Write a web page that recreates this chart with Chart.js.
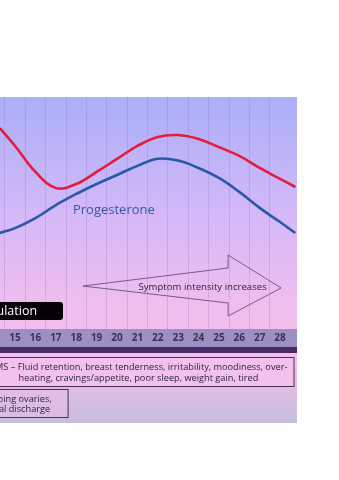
<!DOCTYPE html>
<html>
<head>
<meta charset="utf-8">
<script src="https://cdn.jsdelivr.net/npm/chart.js@4/dist/chart.umd.min.js"></script>
<style>
  html, body { margin: 0; padding: 0; background: #fff; overflow: hidden; }
  canvas { display: block; }
</style>
</head>
<body>
<canvas id="cycle-chart" width="339" height="480"></canvas>
<script>
// Cycle days printed on the band under the curves.
let dayLabels = ['15', '16', '17', '18', '19', '20', '21', '22', '23', '24', '25', '26', '27', '28'];

// Days where the hormone curves are sampled (both ends run past the band).
let sampleDays = [14.25, 15, 16, 17, 18, 19, 20, 21, 22, 23, 24, 25, 26, 27, 28, 28.75];

// Relative hormone levels (0 - 100).
let estrogenLevels = [86.6, 78.9, 67.7, 60.8, 62.5, 67.7, 73.3, 78.9, 82.8, 83.6, 81.9, 78.4, 74.6, 69.4, 64.7, 61.2];
let progesteroneLevels = [41.4, 43.5, 47.8, 53.4, 58.2, 62.5, 66.4, 70.3, 73.4, 72.6, 69.4, 65.1, 59.1, 52.2, 46.1, 41.4];

// Gridlines sit between the days.
let gridDays = [14.5, 15.5, 16.5, 17.5, 18.5, 19.5, 20.5, 21.5, 22.5, 23.5, 24.5, 25.5, 26.5, 27.5];

const X_MIN = 14.26;
const X_MAX = 28.83;
const PANEL_BOTTOM = 423;
const TEXT_FONT = '"Open Sans", "Liberation Sans", sans-serif';

function toPoints(days, values) {
    return days.map((d, i) => ({x: d, y: values[i]}));
}

// Backdrop: gradient panel, day band and dark divider.
const backdrop = {
    id: 'backdrop',
    beforeDraw(chart) {
        const ctx = chart.ctx;
        const area = chart.chartArea;
        const left = area.left - 5;
        const right = area.right;

        ctx.save();
        const grad = ctx.createLinearGradient(0, area.top, 0, PANEL_BOTTOM);
        grad.addColorStop(0, '#a9aff8');
        grad.addColorStop(0.38, '#d7b9f8');
        grad.addColorStop(0.65, '#f1bdee');
        grad.addColorStop(0.82, '#efbfec');
        grad.addColorStop(1, '#c7bddc');
        ctx.fillStyle = grad;
        ctx.fillRect(left, area.top, right - left, PANEL_BOTTOM - area.top);

        // day band
        ctx.fillStyle = '#9d8fc4';
        ctx.fillRect(left, area.bottom, right - left, 18);
        // dark divider
        ctx.fillStyle = '#4b2b63';
        ctx.fillRect(left, area.bottom + 18, right - left, 6);
        ctx.restore();
    }
};

// Boxes, arrow and the curve label.
const notes = {
    id: 'notes',
    afterDraw(chart) {
        const ctx = chart.ctx;
        const x = chart.scales.x;
        const area = chart.chartArea;
        ctx.save();

        // "Ovulation" tag
        const tagRight = x.getPixelForValue(17.35);
        ctx.fillStyle = '#050005';
        ctx.beginPath();
        ctx.roundRect(-20, 302, tagRight + 20, 18, 3);
        ctx.fill();
        ctx.fillStyle = '#ffffff';
        ctx.font = '12.5px ' + TEXT_FONT;
        ctx.textAlign = 'right';
        ctx.textBaseline = 'middle';
        ctx.fillText('Ovulation', x.getPixelForValue(16.08), 311.5);

        // Symptom arrow
        const tail = x.getPixelForValue(18.33);
        const neck = x.getPixelForValue(25.45);
        const tip = x.getPixelForValue(28.05);
        ctx.beginPath();
        ctx.moveTo(tail, 286);
        ctx.lineTo(neck, 268);
        ctx.lineTo(neck, 255);
        ctx.lineTo(tip, 288);
        ctx.lineTo(neck, 316);
        ctx.lineTo(neck, 303);
        ctx.closePath();
        ctx.strokeStyle = '#7a5a8a';
        ctx.lineWidth = 1;
        ctx.stroke();
        ctx.fillStyle = '#2e2438';
        ctx.font = '9.6px ' + TEXT_FONT;
        ctx.textAlign = 'center';
        ctx.fillText('Symptom intensity increases', x.getPixelForValue(24.2), 287.5);

        // Progesterone label
        ctx.fillStyle = '#3458a8';
        ctx.font = '13px ' + TEXT_FONT;
        ctx.textAlign = 'left';
        ctx.fillText('Progesterone', x.getPixelForValue(17.84), 210);

        // PMS box
        ctx.fillStyle = '#f3c2ec';
        ctx.fillRect(-10, 357, area.right - 3 + 10, 29);
        ctx.strokeStyle = '#4a3048';
        ctx.strokeRect(-10, 357.5, area.right - 3 + 10, 29);
        ctx.fillStyle = '#2e2438';
        ctx.font = '9.2px ' + TEXT_FONT;
        ctx.textAlign = 'center';
        const mid = x.getPixelForValue(21.05);
        ctx.fillText('PMS \u2013 Fluid retention, breast tenderness, irritability, moodiness, over-', mid, 367);
        ctx.fillText('heating, cravings/appetite, poor sleep, weight gain, tired', mid, 378);

        // Early symptoms box
        const boxRight = x.getPixelForValue(17.6);
        ctx.fillStyle = 'rgba(230, 190, 230, 0.55)';
        ctx.fillRect(-10, 389, boxRight + 10, 28);
        ctx.strokeRect(-10, 389.5, boxRight + 10, 28);
        ctx.fillStyle = '#2e2438';
        ctx.textAlign = 'right';
        ctx.fillText('Cramping ovaries,', x.getPixelForValue(16.8), 399);
        ctx.fillText('Vaginal discharge', x.getPixelForValue(16.72), 409);

        ctx.restore();
    }
};

new Chart(document.getElementById('cycle-chart'), {
    type: 'line',
    data: {
        datasets: [{
            label: 'Estrogen',
            data: toPoints(sampleDays, estrogenLevels),
            borderColor: '#e21d3c',
            borderWidth: 2.6,
            pointRadius: 0,
            tension: 0.4
        }, {
            label: 'Progesterone',
            data: toPoints(sampleDays, progesteroneLevels),
            borderColor: '#2a58a8',
            borderWidth: 2.6,
            pointRadius: 0,
            tension: 0.4
        }]
    },
    options: {
        responsive: false,
        animation: false,
        layout: {
            padding: {left: 0, right: 42, top: 0, bottom: 0}
        },
        plugins: {
            legend: {display: false},
            tooltip: {enabled: false}
        },
        scales: {
            x: {
                type: 'linear',
                position: 'bottom',
                min: X_MIN,
                max: X_MAX,
                afterBuildTicks(scale) {
                    scale.ticks = dayLabels.map((d) => ({value: Number(d)}));
                },
                afterFit(scale) {
                    scale.height = 151;
                },
                grid: {display: false, drawTicks: false},
                border: {display: false},
                ticks: {
                    padding: 3,
                    maxRotation: 0,
                    autoSkip: false,
                    color: '#3a3050',
                    font: {family: '"Open Sans", "Liberation Sans", sans-serif', size: 10, weight: 'bold'},
                    callback: (value) => String(value)
                }
            },
            grid: {
                type: 'linear',
                position: 'top',
                min: X_MIN,
                max: X_MAX,
                afterBuildTicks(scale) {
                    scale.ticks = gridDays.map((d) => ({value: d}));
                },
                afterFit(scale) {
                    scale.height = 97;
                },
                grid: {color: 'rgba(150, 120, 200, 0.3)', lineWidth: 1, drawTicks: false},
                border: {display: false},
                ticks: {display: false}
            },
            y: {
                min: 0,
                max: 100,
                display: false
            }
        }
    },
    plugins: [backdrop, notes]
});
</script>
</body>
</html>
